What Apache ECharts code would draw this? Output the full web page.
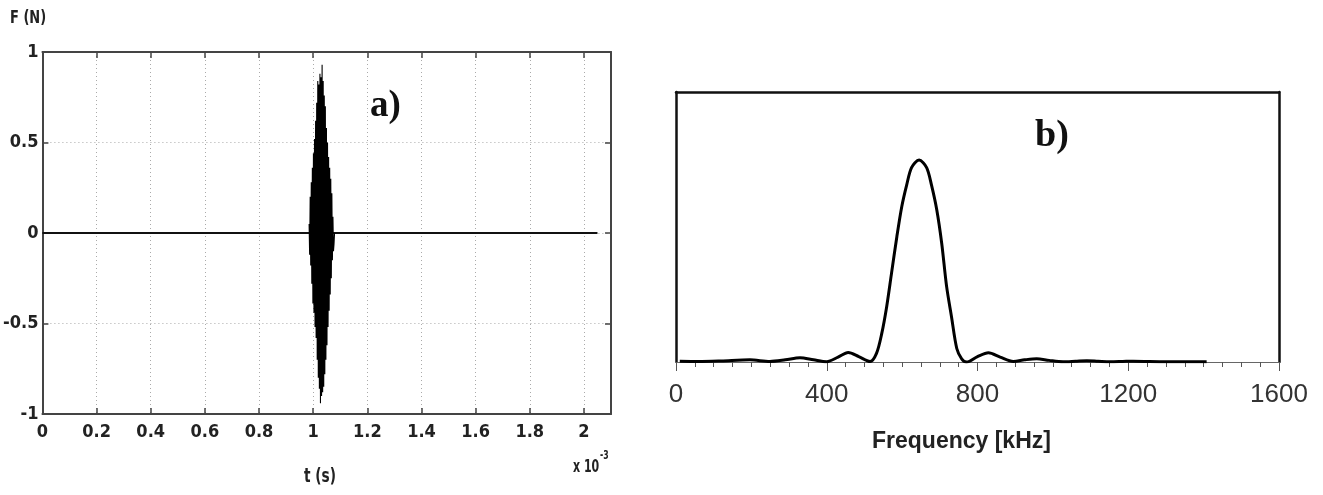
<!DOCTYPE html>
<html>
<head>
<meta charset="utf-8">
<script src="https://cdn.jsdelivr.net/npm/echarts@6/dist/echarts.min.js"></script>
<style>html,body{margin:0;padding:0;background:#fff}#c{width:1323px;height:495px}</style>
</head>
<body>
<div id="c"></div>
<script>
// ---- Panel a) : force signal, time in ms (x 10^-3 s) ----
var timeTicks = [0, 0.2, 0.4, 0.6, 0.8, 1, 1.2, 1.4, 1.6, 1.8, 2];
var forceTicks = [-1, -0.5, 0, 0.5, 1];
var burstTime = [0.985,0.987,0.989,0.991,0.993,0.995,0.997,0.999,1.001,1.003,1.005,1.007,1.009,1.011,1.013,1.015,1.017,1.019,1.021,1.023,1.025,1.027,1.029,1.031,1.033,1.035,1.037,1.039,1.041,1.043,1.045,1.047,1.049,1.051,1.053,1.055,1.057,1.059,1.061,1.063,1.065,1.067,1.069,1.071,1.073,1.075,1.077,1.079];
var burstForce = [0.05,-0.12,0.20,-0.18,0.28,-0.28,0.36,-0.39,0.44,-0.44,0.52,-0.52,0.62,-0.58,0.72,-0.70,0.84,-0.80,0.82,-0.86,0.88,-0.94,0.86,-0.90,0.93,-0.88,0.84,-0.85,0.76,-0.78,0.70,-0.70,0.58,-0.62,0.50,-0.52,0.42,-0.43,0.36,-0.34,0.30,-0.25,0.22,-0.15,0.09,-0.10,-0.06,0];
var restTime = [0, 2.05];
var restForce = [0, 0];

// ---- Panel b) : spectrum ----
var freqTicks = [0, 400, 800, 1200, 1600];
var specFreq = [10, 60, 120, 196, 249, 290, 329, 365, 400, 430, 457, 485, 515, 532, 546, 559, 572, 586, 599, 612, 625, 645, 665, 678, 692, 705, 718, 731, 745, 758, 771, 800, 829, 860, 895, 925, 957, 990, 1027, 1060, 1090, 1120, 1152, 1185, 1213, 1300, 1408];
var specAmp  = [0.003, 0.002, 0.004, 0.008, 0.002, 0.008, 0.016, 0.008, 0.001, 0.018, 0.035, 0.02, 0.002, 0.032, 0.106, 0.205, 0.33, 0.464, 0.575, 0.655, 0.72, 0.748, 0.72, 0.655, 0.563, 0.44, 0.28, 0.168, 0.05, 0.012, 0.0, 0.02, 0.034, 0.018, 0.002, 0.008, 0.012, 0.006, 0.001, 0.003, 0.005, 0.003, 0.001, 0.002, 0.003, 0.001, 0.001];

var burstData = burstTime.map(function (t, i) { return [t, burstForce[i]]; });
var restData = restTime.map(function (t, i) { return [t, restForce[i]]; });
var specData = specFreq.map(function (f, i) { return [f, specAmp[i]]; });

var narrow = "'Liberation Sans Narrow', 'DejaVu Sans Condensed', 'Liberation Sans', sans-serif";
var axisCol = '#444';

var chart = echarts.init(document.getElementById('c'), null, { renderer: 'canvas' });
chart.setOption({
  animation: false,
  backgroundColor: '#fff',
  grid: [
    { left: 35, top: 52, width: 576, height: 362 },
    { left: 676, top: 92, width: 603, height: 270 }
  ],
  xAxis: [
    { gridIndex: 0, type: 'value', min: 0, max: 2.1, interval: 0.2, position: 'bottom',
      axisLine: { onZero: false, lineStyle: { color: axisCol, width: 2 } },
      axisTick: { inside: true, length: 6, lineStyle: { color: axisCol, width: 1.5 } },
      axisLabel: { showMaxLabel: false, margin: 9, color: '#222', fontFamily: narrow, fontWeight: 'bold', fontSize: 18 },
      splitLine: { show: true, lineStyle: { color: '#aaa', type: [1, 3], width: 1 } } },
    { gridIndex: 0, type: 'value', min: 0, max: 2.1, interval: 0.2, position: 'top',
      axisLine: { onZero: false, lineStyle: { color: axisCol, width: 2 } },
      axisTick: { inside: true, length: 6, lineStyle: { color: axisCol, width: 1.5 } },
      axisLabel: { show: false }, splitLine: { show: false } },
    { gridIndex: 1, type: 'value', min: 0, max: 1600, interval: 400, position: 'bottom',
      axisLine: { onZero: false, lineStyle: { color: '#666', width: 1 } },
      axisTick: { length: 9, lineStyle: { color: '#555', width: 1 } },
      minorTick: { show: true, splitNumber: 8, length: 5, lineStyle: { color: '#555', width: 1 } },
      axisLabel: { margin: 20, color: '#333', fontFamily: "'Liberation Sans', Arial, sans-serif", fontSize: 26,
                   formatter: function (v) { return String(v); } },
      splitLine: { show: false } },
    { gridIndex: 1, type: 'value', min: 0, max: 1600, position: 'top',
      axisLine: { onZero: false, lineStyle: { color: '#111', width: 2.5 } },
      axisTick: { show: false }, axisLabel: { show: false }, splitLine: { show: false } }
  ],
  yAxis: [
    { gridIndex: 0, type: 'value', min: -1, max: 1, interval: 0.5,
      axisLine: { show: true, onZero: false, lineStyle: { color: axisCol, width: 2 } },
      axisTick: { show: true, inside: true, length: 6, lineStyle: { color: axisCol, width: 1.5 } },
      axisLabel: { margin: 4, color: '#222', fontFamily: narrow, fontWeight: 'bold', fontSize: 18 },
      splitLine: { show: true, lineStyle: { color: '#aaa', type: [1, 3], width: 1 } } },
    { gridIndex: 0, type: 'value', min: -1, max: 1, interval: 0.5, position: 'right',
      axisLine: { show: true, onZero: false, lineStyle: { color: axisCol, width: 2 } },
      axisTick: { show: true, inside: true, length: 6, lineStyle: { color: axisCol, width: 1.5 } },
      axisLabel: { show: false }, splitLine: { show: false } },
    { gridIndex: 1, type: 'value', min: 0, max: 1,
      axisLine: { show: true, onZero: false, lineStyle: { color: '#111', width: 2.5 } },
      axisTick: { show: false }, axisLabel: { show: false }, splitLine: { show: false } },
    { gridIndex: 1, type: 'value', min: 0, max: 1, position: 'right',
      axisLine: { show: true, onZero: false, lineStyle: { color: '#111', width: 2.5 } },
      axisTick: { show: false }, axisLabel: { show: false }, splitLine: { show: false } }
  ],
  series: [
    { type: 'line', xAxisIndex: 0, yAxisIndex: 0, data: restData, showSymbol: false, symbol: 'none',
      lineStyle: { color: '#111', width: 1.8 }, z: 4 },
    { type: 'line', xAxisIndex: 0, yAxisIndex: 0, data: burstData, showSymbol: false, symbol: 'none',
      lineStyle: { color: '#000', width: 1.1 }, z: 5 },
    { type: 'line', xAxisIndex: 2, yAxisIndex: 2, data: specData, showSymbol: false, symbol: 'none',
      smooth: 0.3, lineStyle: { color: '#000', width: 3 }, z: 5 }
  ],
  graphic: [
    { type: 'text', x: 10, y: 10, scaleX: 0.85, style: { text: 'F (N)', font: "bold 17px " + narrow, fill: '#222' } },
    { type: 'text', x: 304, y: 468, scaleX: 0.8, style: { text: 't (s)', font: "bold 19px " + narrow, fill: '#222' } },
    { type: 'text', x: 573, y: 450, scaleX: 0.72, style: { text: '{a|x 10}{b|-3}', fill: '#222',
        rich: { a: { font: "bold 17px " + narrow, verticalAlign: 'bottom', padding: [9, 0, 0, 0] },
                b: { font: "bold 12px " + narrow, verticalAlign: 'top', padding: [0, 0, 10, 1] } } } },
    { type: 'text', left: 370, top: 88, style: { text: 'a)', font: "bold 37px 'Liberation Serif', 'DejaVu Serif', serif", fill: '#111' } },
    { type: 'text', left: 1035, top: 117, style: { text: 'b)', font: "bold 38px 'Liberation Serif', 'DejaVu Serif', serif", fill: '#111' } },
    { type: 'text', left: 872, top: 430, style: { text: 'Frequency [kHz]', font: "bold 23px 'Liberation Sans', Arial, sans-serif", fill: '#222' } }
  ]
});
</script>
</body>
</html>
